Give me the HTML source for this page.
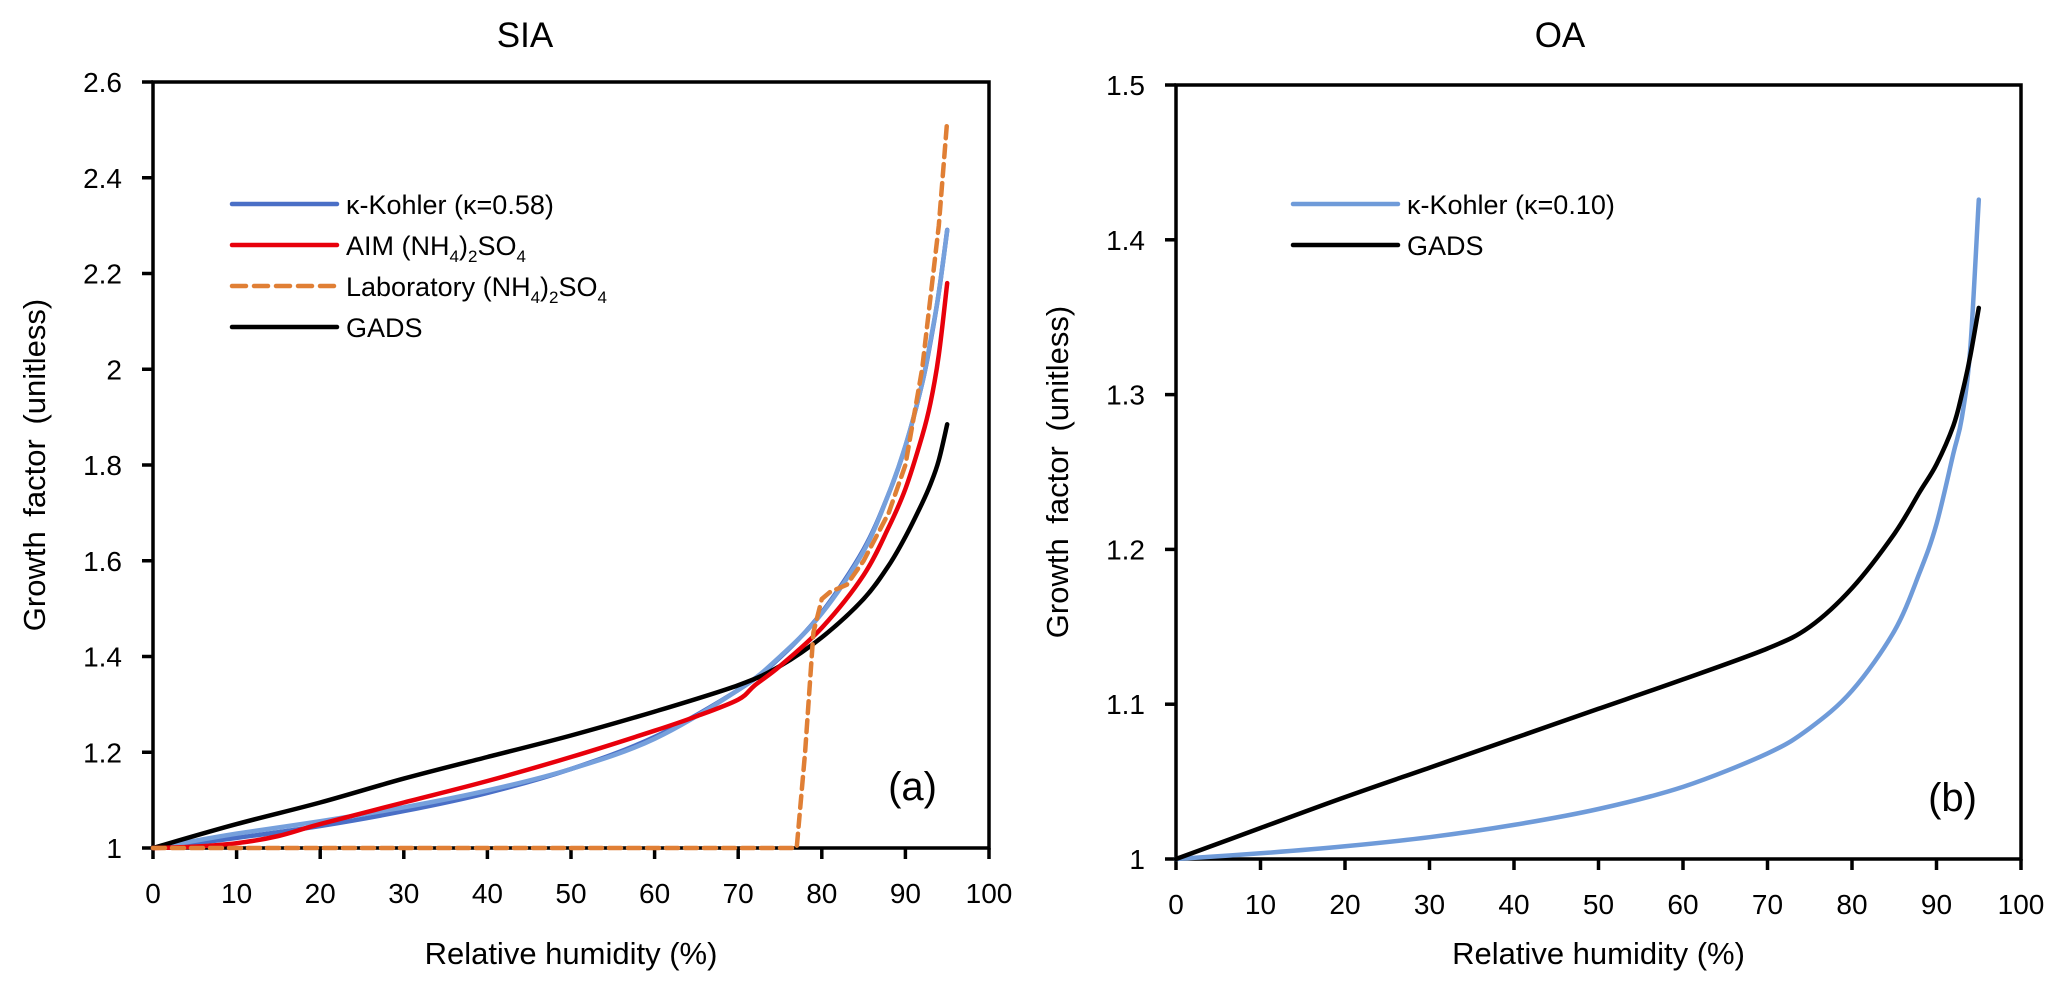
<!DOCTYPE html>
<html><head><meta charset="utf-8"><style>
html,body{margin:0;padding:0;background:#fff;}
svg{display:block;font-family:"Liberation Sans",Arial,sans-serif;}
</style></head><body>
<svg id="c" width="2067" height="992" viewBox="0 0 2067 992" xmlns="http://www.w3.org/2000/svg"></svg>
<script>
// ---- data ----
const rhKappaA = [0,5,10,20,30,40,50,60,70,75,80,85,88,90,92,93,94,95];
const kappaA   = [1,1.010,1.021,1.046,1.077,1.115,1.165,1.232,1.330,1.398,1.492,1.624,1.74,1.839,1.97,2.057,2.16,2.291];
const rhKappaA2 = [0,5,10,20,30,40,50,60,70,75,80,85,88,90,92,93,94,95];
const kappaA2   = [1,1.015,1.03,1.056,1.085,1.12,1.165,1.228,1.33,1.40,1.49,1.62,1.74,1.84,1.97,2.06,2.16,2.29];
const rhAim = [0,5,10,15,20,30,40,50,60,65,70,72,75,80,85,88,90,92,93,94,95];
const aim   = [1,1.003,1.01,1.025,1.05,1.095,1.14,1.19,1.245,1.275,1.31,1.34,1.38,1.46,1.57,1.67,1.75,1.86,1.93,2.03,2.18];
const rhLab = [0,77,78,79,80,81,83,85,88,90,92,94,95];
const lab   = [1,1,1.2,1.45,1.52,1.535,1.55,1.6,1.7,1.8,2.0,2.3,2.52];
const rhGadsA = [0,10,20,30,40,50,60,70,75,80,85,88,90,92,93,94,95];
const gadsA   = [1,1.05,1.095,1.145,1.19,1.235,1.285,1.34,1.38,1.44,1.52,1.59,1.65,1.72,1.76,1.81,1.885];
const rhKappaB = [0,10,20,30,40,50,60,70,75,80,85,88,90,92,93,94,95];
const kappaB   = [1,1.0037,1.0082,1.0141,1.022,1.0323,1.0466,1.0682,1.0845,1.1087,1.1472,1.185,1.2164,1.262,1.2849,1.33,1.426];
const rhGadsB = [0,10,20,30,40,50,60,70,75,80,85,88,90,92,93,94,95];
const gadsB   = [1,1.02,1.04,1.059,1.078,1.097,1.116,1.136,1.15,1.175,1.21,1.237,1.255,1.28,1.3,1.325,1.356];
const xTicks = [0,10,20,30,40,50,60,70,80,90,100];
const yTicksA = [1,1.2,1.4,1.6,1.8,2,2.2,2.4,2.6];
const yTicksB = [1,1.1,1.2,1.3,1.4,1.5];

const NS="http://www.w3.org/2000/svg";
const svg=document.getElementById('c');
function mk(tag,attrs,parent){const e=document.createElementNS(NS,tag);for(const k in attrs)e.setAttribute(k,attrs[k]);(parent||svg).appendChild(e);return e;}
function smoothPath(pts){
  let d='M'+pts[0][0].toFixed(1)+' '+pts[0][1].toFixed(1);
  for(let i=0;i<pts.length-1;i++){
    const p0=pts[i-1]||pts[i],p1=pts[i],p2=pts[i+1],p3=pts[i+2]||p2;
    const c1=[p1[0]+(p2[0]-p0[0])/6,p1[1]+(p2[1]-p0[1])/6];
    const c2=[p2[0]-(p3[0]-p1[0])/6,p2[1]-(p3[1]-p1[1])/6];
    d+=` C${c1[0].toFixed(1)} ${c1[1].toFixed(1)} ${c2[0].toFixed(1)} ${c2[1].toFixed(1)} ${p2[0].toFixed(1)} ${p2[1].toFixed(1)}`;
  }
  return d;
}

function panel(o){
  const g=mk('g',{});
  
  
  const sx=v=>o.x0+(v-0)/100*(o.x1-o.x0);
  const sy=v=>o.yb-(v-o.ymin)/(o.ymax-o.ymin)*(o.yb-o.yt);
  const fr=mk('rect',{x:o.x0,y:o.yt,width:o.x1-o.x0,height:o.yb-o.yt,fill:'none',stroke:'#000','stroke-width':3.5},g);
  
  
  xTicks.forEach(t=>{
    mk('line',{x1:sx(t),x2:sx(t),y1:o.yb,y2:o.yb+11,stroke:'#000','stroke-width':3.5},g);
    const tx=mk('text',{x:sx(t),y:o.yb+55,'font-size':28,'text-anchor':'middle'},g);
    tx.textContent=t;
    
    
  });
  o.yTicks.forEach(t=>{
    mk('line',{x1:o.x0-11,x2:o.x0,y1:sy(t),y2:sy(t),stroke:'#000','stroke-width':3.5},g);
    const tx=mk('text',{x:o.x0-31,y:sy(t)+10,'font-size':28,'text-anchor':'end'},g);
    tx.textContent=String(t);
    
    
  });
  const t=mk('text',{x:o.titleX,y:47,'font-size':35,'text-anchor':'middle'},g);
  t.textContent=o.title;
  
  
  const xt=mk('text',{x:(o.x0+o.x1)/2,y:964,'font-size':31,'text-anchor':'middle'},g);
  xt.textContent='Relative humidity (%)';
  
  
  const cy=(o.yt+o.yb)/2;
  const yt=mk('text',{x:o.yTitleX,y:cy,'font-size':31,'text-anchor':'middle','word-spacing':6,transform:`rotate(-90 ${o.yTitleX} ${cy})`},g);
  yt.textContent='Growth factor (unitless)';
  
  
  const pl=mk('text',{x:o.labelX,y:o.yb-48,'font-size':40,'text-anchor':'end'},g);
  pl.textContent=o.label;
  
  
  o.series.forEach(s=>{
    const pts=s.x.map((v,i)=>[sx(v),sy(s.y[i])]);
    const d=s.smooth?smoothPath(pts):pts.map((p,i)=>(i?'L':'M')+p[0].toFixed(1)+' '+p[1].toFixed(1)).join(' ');
    const p=mk('path',{d:d,fill:'none',stroke:s.color,'stroke-width':4.5,'stroke-linejoin':'round','stroke-linecap':'round'},g);
    if(s.dash)p.setAttribute('stroke-dasharray',s.dash);
    
    
  });
  o.legend.forEach((L,i)=>{
    const y=o.legY+i*41;
    const lg=mk('g',{},g);
    
    
    const ln=mk('line',{x1:o.legX,x2:o.legX+105,y1:y,y2:y,stroke:L.color,'stroke-width':4.5,'stroke-linecap':'round'},lg);
    if(L.dash)ln.setAttribute('stroke-dasharray',L.dash);
    const tx=mk('text',{x:o.legX+114,y:y+10,'font-size':27},lg);
    tx.innerHTML=L.html;
  });
}
const sub='<tspan font-size="17" dy="7">';
const end='</tspan><tspan dy="-7">';
panel({name:'panel-a-sia',x0:153,x1:989,yt:82,yb:848,ymin:1,ymax:2.6,yTicks:yTicksA,title:'SIA',titleX:525,yTitleX:45,label:'(a)',labelX:937,
  legX:232,legY:204,
  series:[
    {name:'kappa-kohler-line',x:rhKappaA,y:kappaA,color:'#4a6fc6',smooth:true},
    {name:'kappa-kohler-line-2',x:rhKappaA2,y:kappaA2,color:'#76a0dc',smooth:true},
    {name:'gads-line',x:rhGadsA,y:gadsA,color:'#000',smooth:true},
    {name:'aim-line',x:rhAim,y:aim,color:'#e8000b',smooth:true},
    {name:'laboratory-line',x:rhLab,y:lab,color:'#e07f35',dash:'12 7'}
  ],
  legend:[
    {color:'#4a6fc6',html:'κ-Kohler (κ=0.58)'},
    {color:'#e8000b',html:'AIM (NH'+sub+'4'+end+')'+sub+'2'+end+'SO'+sub+'4</tspan>'},
    {color:'#e07f35',dash:'14 8',html:'Laboratory (NH'+sub+'4'+end+')'+sub+'2'+end+'SO'+sub+'4</tspan>'},
    {color:'#000',html:'GADS'}
  ]});
panel({name:'panel-b-oa',x0:1176,x1:2021,yt:85,yb:859,ymin:1,ymax:1.5,yTicks:yTicksB,title:'OA',titleX:1560,yTitleX:1068,label:'(b)',labelX:1977,
  legX:1293,legY:204,
  series:[
    {name:'kappa-kohler-line',x:rhKappaB,y:kappaB,color:'#6f9bd9',smooth:true},
    {name:'gads-line',x:rhGadsB,y:gadsB,color:'#000',smooth:true}
  ],
  legend:[
    {color:'#6f9bd9',html:'κ-Kohler (κ=0.10)'},
    {color:'#000',html:'GADS'}
  ]});
</script>
</body></html>
